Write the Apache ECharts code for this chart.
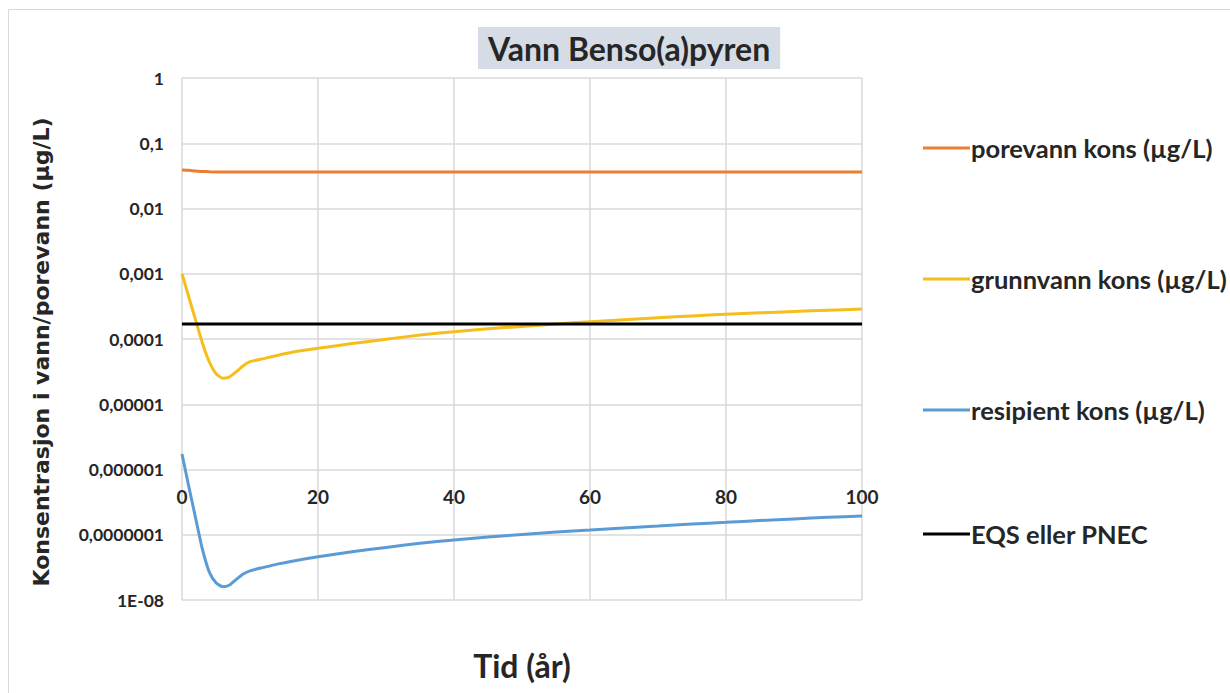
<!DOCTYPE html>
<html>
<head>
<meta charset="utf-8">
<script src="https://cdn.jsdelivr.net/npm/echarts@6/dist/echarts.min.js"></script>
<style>
html,body{margin:0;padding:0;background:#fff;}
#chart{width:1230px;height:693px;}
</style>
</head>
<body>
<div id="chart"></div>
<script>
// ---- data ----
const years = [0,1,2,3,4,5,6,7,8,9,10,12,14,16,20,25,30,35,40,45,50,55,60,65,70,75,80,85,90,95,100];
const porevann = [0.039,0.0385,0.0375,0.037,0.0366,0.0364,0.0364,0.0364,0.0364,0.0364,0.0364,0.0364,0.0364,0.0364,0.0364,0.0364,0.0364,0.0364,0.0364,0.0364,0.0364,0.0364,0.0364,0.0364,0.0364,0.0364,0.0364,0.0364,0.0364,0.0364,0.0364];
const grunnvann = [0.001,4.4e-4,1.95e-4,8.7e-5,4.5e-5,2.95e-5,2.5e-5,2.63e-5,3.16e-5,3.9e-5,4.5e-5,5.0e-5,5.6e-5,6.2e-5,7.2e-5,8.5e-5,9.9e-5,1.15e-4,1.29e-4,1.43e-4,1.56e-4,1.7e-4,1.84e-4,1.98e-4,2.12e-4,2.26e-4,2.39e-4,2.52e-4,2.64e-4,2.76e-4,2.88e-4];
const resipient = [1.73e-6,5.5e-7,1.8e-7,6.0e-8,2.7e-8,1.84e-8,1.6e-8,1.7e-8,2.07e-8,2.5e-8,2.8e-8,3.16e-8,3.55e-8,3.9e-8,4.6e-8,5.5e-8,6.4e-8,7.4e-8,8.3e-8,9.2e-8,1.01e-7,1.1e-7,1.18e-7,1.27e-7,1.36e-7,1.46e-7,1.55e-7,1.65e-7,1.75e-7,1.85e-7,1.94e-7];
const eqsYears = [0,100];
const eqsValues = [1.7e-4,1.7e-4];
const seriesNames = ['porevann kons (µg/L)','grunnvann kons (µg/L)','resipient kons (µg/L)','EQS eller PNEC'];
const yTickLabels = ['1E-08','0,0000001','0,000001','0,00001','0,0001','0,001','0,01','0,1','1'];
const xTickValues = [0,20,40,60,80,100];
const titleText = 'Vann Benso(a)pyren';
const xName = 'Tid (år)';
const yName = 'Konsentrasjon i vann/porevann (µg/L)';

// ---- chart ----
const pair = (xs, ys) => xs.map((x, i) => [x, ys[i]]);
const colors = ['#ED7D31', '#F5BE1B', '#5B9BD5', '#000000'];
const textColor = '#262626';
const chart = echarts.init(document.getElementById('chart'), null, {renderer: 'svg'});

const legendTops = [130, 261, 392, 516];
const legends = seriesNames.map((n, i) => ({
  data: [n], left: 918, top: legendTops[i], orient: 'vertical',
  icon: 'rect', itemWidth: 47, itemHeight: 3, itemGap: 0,
  textStyle: {fontFamily: 'Lato', fontWeight: 'bold', fontSize: 25.5, color: textColor, padding: [0,0,0,-4]}
}));

const option = {
  animation: false,
  backgroundColor: '#ffffff',
  title: {
    text: titleText, left: 478, top: 27,
    padding: [5, 10, 5, 10],
    backgroundColor: '#D6DCE5',
    textStyle: {fontFamily: 'Lato', fontWeight: 'bold', fontSize: 32, color: textColor}
  },
  legend: legends,
  graphic: [{type: 'rect', shape: {x: 8.5, y: 9.5, width: 1300, height: 800}, style: {fill: 'none', stroke: '#d9d9d9', lineWidth: 1}, silent: true, z: -10}],
  grid: [
    {left: 182, top: 78, width: 680, height: 522},
    {left: 182, top: 78, width: 680, height: 392}
  ],
  xAxis: [
    {type: 'value', gridIndex: 0, min: 0, max: 100, interval: 20,
     axisLine: {show: false}, axisTick: {show: false}, axisLabel: {show: false},
     splitLine: {show: true, lineStyle: {color: '#d9d9d9', width: 1.5}},
     name: xName, nameLocation: 'middle', nameGap: 49,
     nameTextStyle: {fontFamily: 'Lato', fontWeight: 'bold', fontSize: 32, color: textColor}},
    {type: 'value', gridIndex: 1, min: 0, max: 100, interval: 20,
     axisLine: {show: false}, axisTick: {show: false}, splitLine: {show: false},
     axisLabel: {show: true, margin: 17, fontFamily: 'Lato', fontWeight: 'bold', fontSize: 19, color: textColor,
       formatter: v => xTickValues.includes(v) ? String(v) : ''}}
  ],
  yAxis: [
    {type: 'log', gridIndex: 0, logBase: 10, min: 1e-8, max: 1, interval: 1,
     axisLine: {show: false}, axisTick: {show: false},
     splitLine: {show: true, lineStyle: {color: '#d9d9d9', width: 1.5}},
     axisLabel: {margin: 18, fontFamily: 'Lato', fontWeight: 'bold', fontSize: 17.5, color: textColor,
       formatter: v => yTickLabels[Math.round(Math.log10(v)) + 8]},
     name: yName, nameLocation: 'middle', nameRotate: 90, nameGap: 130,
     nameTextStyle: {fontFamily: 'DejaVu Sans', fontWeight: 'bold', fontSize: 22, color: textColor, padding: [0, 26, 0, 0]}},
    {type: 'value', gridIndex: 1, show: false, min: 0, max: 1}
  ],
  series: [
    {name: seriesNames[0], type: 'line', data: pair(years, porevann), showSymbol: false, symbol: 'none', smooth: 0.2, lineStyle: {color: colors[0], width: 3}, itemStyle: {color: colors[0]}},
    {name: seriesNames[1], type: 'line', data: pair(years, grunnvann), showSymbol: false, symbol: 'none', smooth: 0.2, lineStyle: {color: colors[1], width: 3}, itemStyle: {color: colors[1]}},
    {name: seriesNames[2], type: 'line', data: pair(years, resipient), showSymbol: false, symbol: 'none', smooth: 0.2, lineStyle: {color: colors[2], width: 3}, itemStyle: {color: colors[2]}},
    {name: seriesNames[3], type: 'line', data: pair(eqsYears, eqsValues), showSymbol: false, symbol: 'none', lineStyle: {color: colors[3], width: 3}, itemStyle: {color: colors[3]}}
  ]
};
chart.setOption(option);
</script>
</body>
</html>
